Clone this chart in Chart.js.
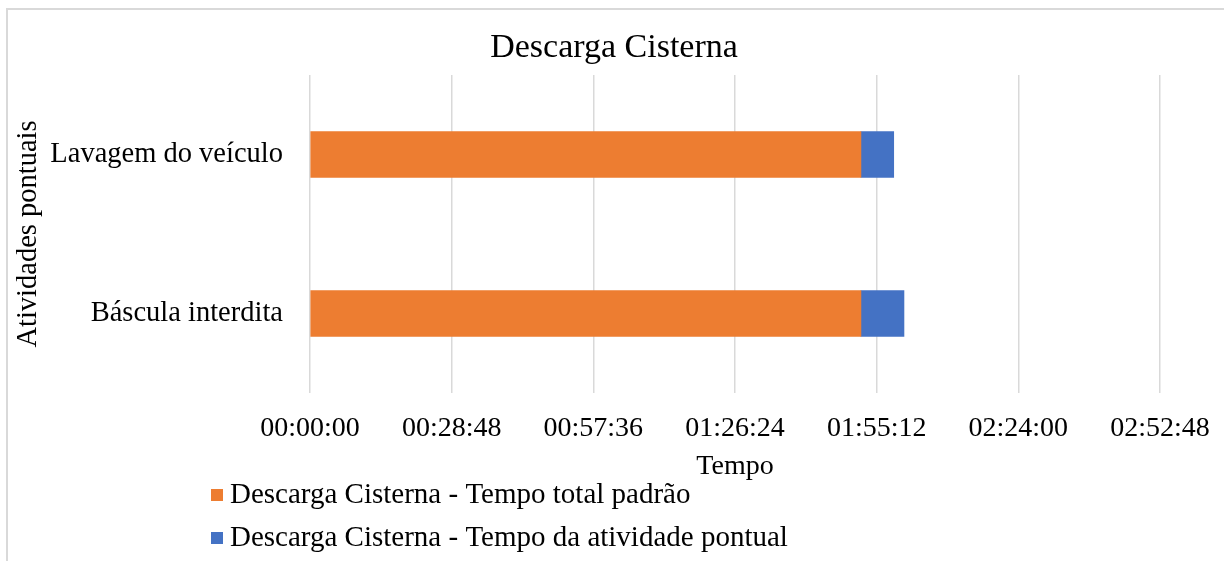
<!DOCTYPE html>
<html>
<head>
<meta charset="utf-8">
<style>
  html, body { margin: 0; padding: 0; background: #ffffff; }
  #wrap { width: 1224px; height: 561px; position: relative; }
</style>
<script src="https://cdn.jsdelivr.net/npm/chart.js@4/dist/chart.umd.min.js"></script>
</head>
<body>
<div id="wrap"><canvas id="chart" width="1224" height="561"></canvas></div>
<script>
// Activities (top to bottom)
const categories = ['Lavagem do veículo', 'Báscula interdita'];
// Durations in seconds
const tempoTotalPadrao = [6720, 6720];
const tempoAtividadePontual = [400, 525];
const seriesNames = [
  'Descarga Cisterna - Tempo total padrão',
  'Descarga Cisterna - Tempo da atividade pontual'
];
const seriesColors = ['#ED7D31', '#4472C4'];
const chartTitle = 'Descarga Cisterna';
// Time axis: 0 to 02:52:48 in steps of 00:28:48
const axisMin = 0;
const axisMax = 10368;
const axisStep = 1728;

const FONT = '"Liberation Serif", "Times New Roman", serif';

function hms(sec) {
  const s = Math.round(sec);
  const h = Math.floor(s / 3600);
  const m = Math.floor((s % 3600) / 60);
  const r = s % 60;
  const p = n => String(n).padStart(2, '0');
  return p(h) + ':' + p(m) + ':' + p(r);
}

// Frame, centred title and a stacked legend below the axis title
const framePlugin = {
  id: 'frame',
  beforeDraw(chart) {
    const ctx = chart.ctx;
    ctx.save();
    ctx.fillStyle = '#ffffff';
    ctx.fillRect(0, 0, chart.width, chart.height);
    ctx.strokeStyle = '#d9d9d9';
    ctx.lineWidth = 2;
    ctx.beginPath();
    ctx.moveTo(7, chart.height + 5);
    ctx.lineTo(7, 9);
    ctx.lineTo(chart.width + 5, 9);
    ctx.stroke();
    ctx.restore();
  },
  afterDraw(chart) {
    const ctx = chart.ctx;
    ctx.save();
    ctx.fillStyle = '#000000';
    ctx.textBaseline = 'middle';
    ctx.textAlign = 'center';
    ctx.font = '34px ' + FONT;
    ctx.fillText(chartTitle, 614, 48);

    const rows = [495, 538];
    ctx.font = '29px ' + FONT;
    ctx.textAlign = 'left';
    chart.data.datasets.forEach((ds, i) => {
      const y = rows[i];
      ctx.fillStyle = ds.backgroundColor;
      ctx.fillRect(211, y - 6, 12, 12);
      ctx.fillStyle = '#000000';
      ctx.fillText(ds.label, 230, y);
    });
    ctx.restore();
  }
};

new Chart(document.getElementById('chart'), {
  type: 'bar',
  data: {
    labels: categories,
    datasets: [
      { label: seriesNames[0], data: tempoTotalPadrao, backgroundColor: seriesColors[0], barThickness: 46 },
      { label: seriesNames[1], data: tempoAtividadePontual, backgroundColor: seriesColors[1], barThickness: 46 }
    ]
  },
  options: {
    indexAxis: 'y',
    responsive: false,
    animation: false,
    devicePixelRatio: 1,
    layout: { padding: { left: 11, right: 64, top: 75, bottom: 78 } },
    plugins: {
      legend: { display: false },
      tooltip: { enabled: false },
      title: { display: false }
    },
    scales: {
      x: {
        stacked: true,
        min: axisMin,
        max: axisMax,
        afterBuildTicks(scale) {
          const t = [];
          for (let v = axisMin; v <= axisMax; v += axisStep) t.push({ value: v });
          scale.ticks = t;
        },
        afterFit(scale) {
          scale.height = 90;
          scale.paddingLeft = 0;
          scale.paddingRight = 0;
        },
        ticks: {
          callback: v => hms(v),
          color: '#000000',
          font: { family: FONT, size: 28 },
          padding: 19,
          maxRotation: 0,
          autoSkip: false
        },
        grid: { color: '#d9d9d9', lineWidth: 1.5, drawTicks: false },
        border: { display: false },
        title: {
          display: true,
          text: 'Tempo',
          color: '#000000',
          font: { family: FONT, size: 28 },
          padding: { top: 0, bottom: 0 }
        }
      },
      y: {
        stacked: true,
        afterFit(scale) { scale.width = 299; },
        ticks: {
          color: '#000000',
          font: { family: FONT, size: 28.5 },
          padding: 27
        },
        grid: { display: false, drawTicks: false },
        border: { display: false },
        title: {
          display: true,
          text: 'Atividades pontuais',
          color: '#000000',
          font: { family: FONT, size: 28.5 },
          padding: { top: 0, bottom: 0 }
        }
      }
    }
  },
  plugins: [framePlugin]
});
</script>
</body>
</html>
